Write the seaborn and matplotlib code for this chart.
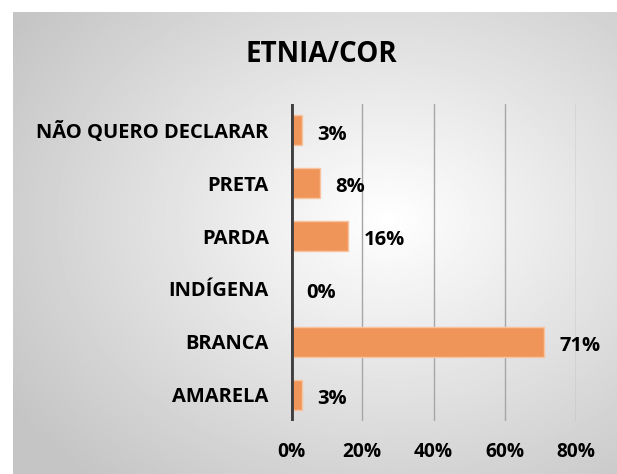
import numpy as np
import pandas as pd
import matplotlib.pyplot as plt
import seaborn as sns

# data
categorias = ["NÃO QUERO DECLARAR", "PRETA", "PARDA", "INDÍGENA", "BRANCA", "AMARELA"]
percentuais = [3, 8, 16, 0, 71, 3]
ticks = [0, 20, 40, 60, 80]
tick_labels = ["0%", "20%", "40%", "60%", "80%"]

df = pd.DataFrame({"cor": categorias, "pct": percentuais})

sns.set_style("white")
plt.rcParams["font.family"] = ["Open Sans", "DejaVu Sans"]
plt.rcParams["text.color"] = "black"
plt.rcParams["xtick.color"] = "black"
plt.rcParams["ytick.color"] = "black"

W, H = 617, 474
fig = plt.figure(figsize=(W / 100, H / 100), dpi=100)
fig.patch.set_facecolor("white")

# radial gradient background of the chart area
bg = fig.add_axes([13 / W, 0, 1 - 13 / W, 1 - 12 / H])
bg.set_axis_off()
yy, xx = np.mgrid[0:1:300j, 0:1:400j]
r = np.sqrt(((xx - 0.62) / 0.75) ** 2 + ((yy - 0.45) / 0.75) ** 2)
grad = 1 - np.clip(r, 0, 1) * 0.23
bg.imshow(grad, cmap="gray", vmin=0, vmax=1, aspect="auto", extent=[0, 1, 0, 1], origin="upper")
bg.set_xlim(0, 1)
bg.set_ylim(0, 1)

ax = fig.add_axes([291 / W, 1 - 421 / H, (576 - 291) / W, (421 - 104) / H])
ax.patch.set_alpha(0)
sns.barplot(data=df, x="pct", y="cor", orient="h", color="#F0955A", width=0.57,
            edgecolor="#F7C3A0", linewidth=1, saturation=1, ax=ax)

ax.set_xlim(0, 80)
ax.set_ylim(5.5, -0.5)
ax.set_xticks(ticks)
ax.set_xticklabels(tick_labels, fontsize=13.8, fontweight="bold")
ax.tick_params(axis="x", length=0, pad=15)
ax.tick_params(axis="y", length=0, pad=16)
for lab in ax.get_yticklabels():
    lab.set_fontsize(14.5)
    lab.set_fontweight("bold")
ax.set_xlabel("")
ax.set_ylabel("")
for s in ax.spines.values():
    s.set_visible(False)
for t in ticks[1:]:
    ax.axvline(t, color="#a6a6a6", linewidth=1, zorder=0)
ax.axvline(0, color="#404040", linewidth=3.5, zorder=5)

for i, v in enumerate(percentuais):
    ax.text(v + 4.3, i + 0.08, f"{v}%", va="center", ha="left",
            fontsize=14.5, fontweight="bold", clip_on=False)

fig.text(321 / W, 1 - 55 / H, "ETNIA/COR", ha="center", va="center",
         fontsize=20, fontweight="bold")

fig.savefig("out.png", dpi=100)
